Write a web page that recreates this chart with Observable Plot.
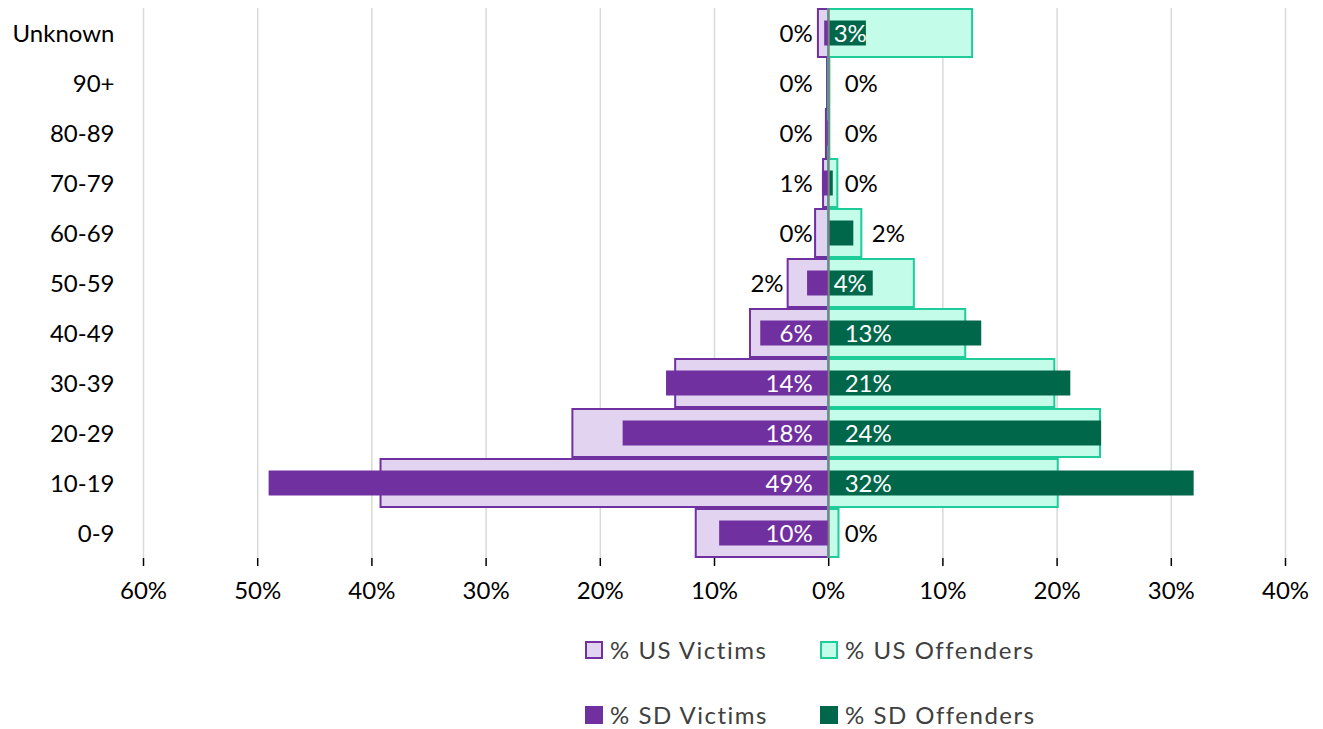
<!DOCTYPE html>
<html>
<head>
<meta charset="utf-8">
<script src="https://cdn.jsdelivr.net/npm/d3@7"></script>
<script src="https://cdn.jsdelivr.net/npm/@observablehq/plot@0.6"></script>
<style>
  body { margin: 0; background: #fff; font-family: Lato, "Liberation Sans", sans-serif; }
  #wrap { position: relative; width: 1323px; height: 729px; }
  .leg { position: absolute; display: flex; align-items: center; font-size: 24px; letter-spacing: 1.5px; color: #404040; white-space: nowrap; }
  .sw { width: 18px; height: 18px; margin-right: 7px; box-sizing: border-box; }
</style>
</head>
<body>
<div id="wrap">
  <div id="chart"></div>
  <div id="legend"></div>
</div>
<script>
const categories = ["Unknown","90+","80-89","70-79","60-69","50-59","40-49","30-39","20-29","10-19","0-9"];
const usVictims   = [0.9, 0.1, 0.2, 0.45, 1.15, 3.55, 6.85, 13.4, 22.4, 39.2, 11.6];
const sdVictims   = [0.35, 0, 0.1, 0.55, 0, 1.85, 5.95, 14.2, 18.0, 49.0, 9.55];
const usOffenders = [12.6, 0.1, 0.1, 0.8, 2.9, 7.5, 12.0, 19.8, 23.8, 20.1, 0.9];
const sdOffenders = [3.3, 0, 0, 0.4, 2.2, 3.9, 13.4, 21.2, 23.9, 32.0, 0];
const xTicks = [-60,-50,-40,-30,-20,-10,0,10,20,30,40];
const seriesNames = ["% US Victims","% US Offenders","% SD Victims","% SD Offenders"];

const C = {
  usVicFill: "#E2D3F0", usVicStroke: "#7030A0", sdVic: "#7030A0",
  usOffFill: "#C4FCEA", usOffStroke: "#1ECC99", sdOff: "#00674A"
};

const rows = categories.map((c, i) => ({
  cat: c, usV: usVictims[i], sdV: sdVictims[i], usO: usOffenders[i], sdO: sdOffenders[i]
}));

// label placement: small non-zero bars (about 2%) get labels outside bar end
const isOut = v => v >= 1.5 && v < 3;
const vicLabels = rows.map(r => ({
  cat: r.cat, v: r.sdV, out: isOut(r.sdV), x: isOut(r.sdV) ? -r.sdV : 0,
  fill: r.sdV >= 3 ? "white" : "black", text: Math.round(r.sdV) + "%"
}));
const offLabels = rows.map(r => ({
  cat: r.cat, v: r.sdO, out: isOut(r.sdO), x: isOut(r.sdO) ? r.sdO : 0,
  fill: r.sdO >= 3 ? "white" : "black", text: Math.round(r.sdO) + "%"
}));
const narrow = v => v >= 3 && v < 5;

const font = "Lato, 'Liberation Sans', sans-serif";
const fmt = d => Math.abs(d) + "%";

const chart = Plot.plot({
  width: 1323,
  height: 625,
  marginLeft: 143,
  marginRight: 38,
  marginTop: 8,
  marginBottom: 67,
  style: {fontFamily: font, fontSize: "24px", color: "#000", background: "white"},
  x: {domain: [-60, 40], label: null},
  y: {domain: categories, padding: 0, label: null},
  marks: [
    Plot.ruleX(xTicks.filter(d => d !== 0), {stroke: "#D9D9D9", strokeWidth: 1.5}),
    Plot.barX(rows, {y: "cat", x1: 0, x2: d => -d.usV, fill: C.usVicFill, stroke: C.usVicStroke, strokeWidth: 2, insetTop: 1, insetBottom: 1}),
    Plot.barX(rows, {y: "cat", x1: 0, x2: "usO", fill: C.usOffFill, stroke: C.usOffStroke, strokeWidth: 2, insetTop: 1, insetBottom: 1}),
    Plot.barX(rows, {y: "cat", x1: 0, x2: d => -d.sdV, fill: C.sdVic, insetTop: 12.5, insetBottom: 12.5}),
    Plot.barX(rows, {y: "cat", x1: 0, x2: "sdO", fill: C.sdOff, insetTop: 12.5, insetBottom: 12.5}),
    Plot.ruleX([0], {stroke: "#808080", strokeWidth: 2}),
    Plot.axisX({ticks: xTicks, tickFormat: fmt, tickSize: 8, tickPadding: 15, stroke: "#000", strokeWidth: 1.5, fontSize: 24}),
    Plot.axisY({tickSize: 0, tickPadding: 26, fontSize: 24, dx: -3, dy: 1}),
    Plot.text(vicLabels, {filter: d => !d.out, y: "cat", x: "x", dx: -16, dy: 1, text: "text", fill: "fill", textAnchor: "end", fontSize: 24}),
    Plot.text(vicLabels, {filter: d => d.out, y: "cat", x: "x", dx: -24, dy: 1, text: "text", fill: "fill", textAnchor: "end", fontSize: 24}),
    Plot.text(offLabels, {filter: d => !d.out && narrow(d.v), y: "cat", x: "x", dx: 5, dy: 1, text: "text", fill: "fill", textAnchor: "start", fontSize: 24}),
    Plot.text(offLabels, {filter: d => !d.out && !narrow(d.v), y: "cat", x: "x", dx: 16, dy: 1, text: "text", fill: "fill", textAnchor: "start", fontSize: 24}),
    Plot.text(offLabels, {filter: d => d.out, y: "cat", x: "x", dx: 18, dy: 1, text: "text", fill: "fill", textAnchor: "start", fontSize: 24})
  ]
});
document.getElementById("chart").appendChild(chart);

// legend
const leg = document.getElementById("legend");
const items = [
  {name: seriesNames[0], fill: C.usVicFill, stroke: C.usVicStroke, left: 585, top: 635},
  {name: seriesNames[1], fill: C.usOffFill, stroke: C.usOffStroke, left: 820, top: 635},
  {name: seriesNames[2], fill: C.sdVic, stroke: C.sdVic, left: 585, top: 700},
  {name: seriesNames[3], fill: C.sdOff, stroke: C.sdOff, left: 820, top: 700}
];
items.forEach(it => {
  const d = document.createElement("div");
  d.className = "leg";
  d.style.left = it.left + "px";
  d.style.top = it.top + "px";
  d.innerHTML = `<span class="sw" style="background:${it.fill};border:2px solid ${it.stroke}"></span><span>${it.name}</span>`;
  leg.appendChild(d);
});
</script>
</body>
</html>
